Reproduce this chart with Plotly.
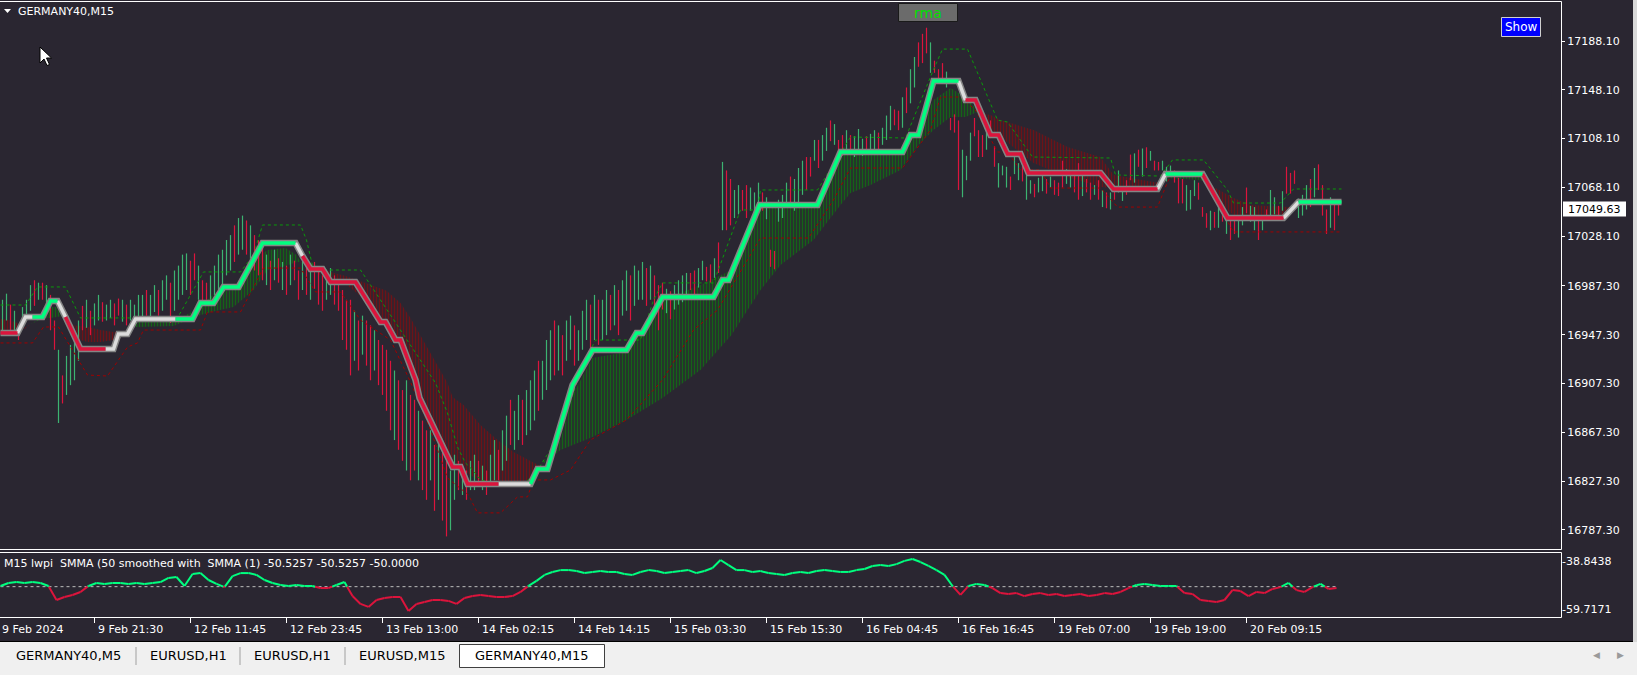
import plotly.graph_objects as go

# ---------------- data ----------------
tick_labels = ["9 Feb 2024", "9 Feb 21:30", "12 Feb 11:45", "12 Feb 23:45", "13 Feb 13:00",
               "14 Feb 02:15", "14 Feb 14:15", "15 Feb 03:30", "15 Feb 15:30", "16 Feb 04:45",
               "16 Feb 16:45", "19 Feb 07:00", "19 Feb 19:00", "20 Feb 09:15"]
tick_bars = [-1, 47, 95, 143, 191, 239, 287, 335, 383, 431, 479, 527, 575, 623]

price_ticks = [17188.10, 17148.10, 17108.10, 17068.10, 17028.10, 16987.30,
               16947.30, 16907.30, 16867.30, 16827.30, 16787.30]
ind_ticks = [-38.8438, -59.7171]
last_price = 17049.63
ind_level = -50.0

candle_lo = [
 16947,16959,16948,16951,16943, 16957,16959,16967,16971,16976, 16976,16971,16951,16935,16875,
 16891,16898,16906,16910,16926, 16951,16953,16947,16955,16959, 16958,16959,16961,16955,16963,
 16958,16955,16959,16958,16961, 16959,16963,16961,16966,16963, 16967,16976,16957,16967,16976,
 16980,16984,16980,16992,16976, 16971,16976,16976,16980,16984, 16988,16996,17000,17007,17013,
 17017,17013,17008,17000,16996, 16992,16988,16984,16992,16990, 16984,16980,16988,16992,16976,
 16984,16980,16976,16985,16972, 16967,16976,16980,16972,16967, 16943,16935,16914,16926,16918,
 16931,16922,16910,16918,16906, 16898,16885,16869,16861,16853, 16844,16836,16828,16836,16828,
 16820,16812,16828,16803,16812, 16795,16782,16787,16812,16820, 16816,16812,16820,16820,16824,
 16820,16816,16824,16828,16828, 16836,16844,16857,16853,16861, 16857,16865,16869,16877,16885,
 16894,16902,16910,16914,16918, 16914,16926,16935,16922,16926, 16935,16943,16935,16943,16939,
 16943,16947,16951,16955,16947, 16963,16967,16959,16971,16976, 16976,16971,16976,16963,16951,
 16968,16965,16960,16968,16972, 16974,16978,16984,16978,16986, 16992,16991,16990,16994,16998,
 17033,17033,17037,17043,17046, 17049,17043,17049,17047,17051, 17049,17042,17003,17001,17040,
 17043,17052,17055,17049,17055, 17062,17066,17077,17090,17084, 17090,17098,17106,17103,17099,
 17094,17097,17095,17093,17099, 17094,17096,17098,17099,17097, 17103,17107,17115,17119,17115,
 17117,17129,17137,17150,17167, 17170,17178,17162,17162,17154, 17154,17150,17115,17113,17066,
 17060,17074,17090,17110,17093, 17093,17099,17111,17085,17068, 17078,17068,17066,17079,17074,
 17073,17058,17063,17060,17064, 17065,17063,17068,17062,17061, 17068,17071,17068,17064,17058,
 17061,17064,17058,17062,17058, 17052,17051,17050,17058,17064, 17057,17062,17074,17072,17085,
 17077,17084,17090,17082,17082, 17082,17073,17080,17072,17055, 17055,17049,17050,17061,17058,
 17044,17035,17033,17035,17035, 17040,17030,17025,17030,17027, 17037,17047,17040,17033,17025,
 17033,17043,17041,17046,17041, 17049,17063,17063,17071,17043,
 17045,17050,17052,17060,17066,17045,17030,17035,17033,17045]
candle_hi = [
 16976,16981,16972,16967,16955, 16970,16976,16988,16992,16990, 16990,16988,16980,16959,16935,
 16914,16930,16939,16943,16959, 16971,16976,16967,16973,16980, 16974,16972,16976,16973,16977,
 16976,16972,16976,16972,16980, 16980,16984,16980,16988,16984, 16992,16996,16990,17000,17004,
 17013,17014,17008,17014,17004, 16992,16990,16996,17004,17013, 17017,17025,17029,17037,17043,
 17045,17041,17037,17029,17025, 17021,17013,17008,17017,17010, 17007,17004,17013,17008,17000,
 17008,17004,17000,17007,17000, 16996,17000,17002,16996,16992, 16984,16976,16976,16967,16959,
 16963,16959,16955,16951,16943, 16939,16935,16926,16918,16910, 16902,16910,16898,16894,16885,
 16877,16869,16869,16857,16861, 16853,16844,16836,16849,16844, 16840,16836,16844,16849,16844,
 16840,16836,16849,16861,16853, 16869,16881,16894,16885,16898, 16894,16902,16910,16918,16926,
 16926,16943,16951,16959,16955, 16947,16959,16963,16955,16951, 16967,16976,16972,16980,16976,
 16976,16984,16980,16988,16984, 16992,17000,16996,17004,17000, 17007,17002,17004,16996,16988,
 16990,16985,16983,16988,16992, 16996,16998,16998,17000,17002, 17008,17003,17005,17010,17023,
 17089,17082,17075,17066,17070, 17066,17070,17068,17064,17072, 17064,17060,17017,17016,17058,
 17062,17072,17077,17075,17084, 17090,17093,17093,17107,17107, 17111,17117,17123,17120,17107,
 17111,17115,17111,17110,17116, 17108,17110,17112,17115,17113, 17117,17127,17135,17132,17131,
 17142,17150,17165,17175,17187, 17194,17199,17187,17172,17165, 17170,17163,17125,17128,17123,
 17099,17094,17113,17125,17115, 17111,17115,17123,17102,17088, 17086,17085,17077,17093,17088,
 17086,17078,17074,17071,17076, 17078,17075,17077,17074,17072, 17090,17083,17080,17078,17088,
 17078,17075,17072,17070,17074, 17066,17064,17064,17068,17082, 17067,17074,17095,17096,17099,
 17100,17101,17098,17090,17089, 17090,17085,17086,17082,17076, 17075,17070,17066,17074,17072,
 17052,17047,17049,17048,17055, 17050,17043,17041,17041,17043, 17052,17068,17053,17052,17041,
 17045,17050,17066,17060,17053, 17065,17085,17080,17082,17059,
 17062,17070,17075,17084,17087,17070,17050,17060,17055,17058]
candle_dir = "".join([
 "ggrgr", "gggrg", "rgrrg", "rgggg", "rgrgg", "rggrr", "grggg", "grggr", "ggrgg", "ggrrg",
 "rrggg", "gggrg", "grgrr", "rgrgr", "grgrr", "grgrr", "rggrr", "rrrgr", "grrgr", "rrrgr",
 "rgrrg", "rrgrg", "rrggr", "grggr", "grggr", "ggrgg", "rgggr", "gggrg", "rggrg", "ggrgr",
 "ggrgr", "ggrgg", "grgrr", "rgrgg", "ggrrg", "grrgr", "grrgg", "rrggg", "rgrrg", "ggrgg",
 "grrgr", "ggrgr", "rgrgg", "grggr", "gggrr", "grggr", "rrgrr", "rgrrr", "gggrr", "rgrrg",
 "ggrgg", "rggrg", "grgrr", "rggrr", "grrgr", "grgrg", "grrgr", "grgrr", "gggrr", "rgggr",
 "rrgrg", "rgrrg", "grggr", "grggr", "grrrg", "ggrgrrrgrr"])
candle_x = list(range(1, 2 * len(candle_lo), 2))

# stepped "rma" line (bar index, price) and colour of each segment
step_x = [0, 8.5, 12.5, 16, 21, 25, 28.5, 32.5, 40, 52.5, 56.5, 59, 63.5, 67.5, 87.5, 96, 100, 106.5,
          111.5, 119, 131, 147.5, 151, 155, 161, 165, 177.5, 185, 190, 192.5, 197.5, 200, 207.5, 209.5,
          226, 230, 233.5, 249, 265, 268.5, 273.5, 286, 296, 313, 318, 321, 331, 356.5, 361, 364,
          379.5, 408.5, 420, 451, 455, 459, 466.5, 479, 482.5, 487.5, 495, 499, 503.5, 510, 514, 550,
          556.5, 578.5, 582.5, 601, 613.5, 641.5, 649, 670.5]
step_y = [16948.8, 16948.8, 16961.9, 16961.9, 16961.9, 16975.0, 16975.0, 16961.9, 16935.7, 16935.7,
          16935.7, 16948.0, 16948.0, 16960.2, 16960.2, 16960.2, 16973.4, 16973.4, 16986.5, 16986.5,
          17022.5, 17022.5, 17011.9, 17001.2, 17001.2, 16990.6, 16990.6, 16971.7, 16957.8, 16957.8,
          16943.0, 16943.0, 16910.3, 16895.5, 16839.0, 16839.0, 16825.0, 16825.0, 16825.0, 16837.3,
          16837.3, 16906.2, 16934.8, 16934.8, 16948.8, 16948.8, 16978.3, 16978.3, 16992.2, 16992.2,
          17053.7, 17053.7, 17097.1, 17097.1, 17111.1, 17111.1, 17155.3, 17155.3, 17139.7, 17139.7,
          17111.1, 17111.1, 17095.5, 17095.5, 17079.9, 17079.9, 17066.8, 17066.8, 17079.1, 17079.1,
          17043.0, 17043.0, 17056.1, 17056.1]
step_col = ("rww" + "ggg" + "w" + "rr" + "w" * 5 + "g" * 7 + "w" + "r" * 15 + "w" + "g" * 19 +
            "w" + "r" * 9 + "w" + "g" + "rr" + "w" + "g")

# two moving averages whose gap is hatched
hatch_x = [0, 4, 8.5, 12, 15, 22, 25, 28.5, 31, 33, 35, 40, 43.5, 50, 56.5, 62.5, 65, 67.5, 86.5, 100,
           107.5, 116.5, 126.5, 133.5, 142.5, 148, 150, 156.5, 165, 172.5, 182.5, 193, 200, 205, 211.5,
           217.5, 223.5, 226, 231.5, 240, 248.5, 256.5, 265, 270, 280, 286, 296, 313, 331, 350, 365.5,
           380, 390, 406.5, 420, 425, 435, 450, 459, 466.5, 475, 482.5, 488.5, 490, 495, 500, 516.5,
           533.5, 550, 556.5, 576.5, 580, 582.5, 600, 602, 607.5, 616.5, 625, 643.5, 647.5, 670.5]
hatch_fast = [16951.2, 16951.2, 16951.2, 16952.1, 16956.2, 16962.7, 16970.1, 16970.1, 16964.3, 16959.4,
              16952.1, 16943.0, 16941.4, 16941.4, 16943.0, 16949.6, 16954.5, 16957.8, 16957.8, 16970.1,
              16982.4, 16984.0, 17008.6, 17016.8, 17018.4, 17012.7, 17007.0, 17000.4, 16989.8, 16988.9,
              16975.8, 16955.3, 16941.4, 16925.0, 16895.5, 16869.3, 16847.1, 16839.8, 16836.5, 16826.7,
              16826.7, 16826.7, 16828.3, 16839.8, 16861.1, 16898.0, 16928.3, 16933.2, 16975.8, 16988.1,
              17000.4, 17051.2, 17052.0, 17052.9, 17094.7, 17097.1, 17098.8, 17098.8, 17115.2, 17139.7,
              17149.6, 17142.2, 17131.5, 17129.1, 17111.1, 17109.4, 17088.1, 17076.6, 17068.4, 17067.6,
              17067.6, 17071.7, 17078.3, 17077.4, 17072.5, 17057.8, 17045.5, 17045.5, 17045.5, 17051.2,
              17053.7]
hatch_slow = [16960.3, 16959.4, 16957.0, 16952.9, 16956.2, 16961.1, 16961.1, 16961.9, 16962.7, 16959.4,
              16955.3, 16954.5, 16953.7, 16951.2, 16949.6, 16950.4, 16954.5, 16953.7, 16954.5, 16963.5,
              16966.8, 16970.1, 16984.0, 17000.4, 17003.7, 17007.0, 17007.0, 17003.7, 16998.8, 16995.5,
              16989.8, 16983.4, 16973.4, 16961.0, 16943.0, 16925.0, 16907.8, 16896.3, 16889.8, 16873.4,
              16861.1, 16851.3, 16843.9, 16839.8, 16852.9, 16857.0, 16863.5, 16877.5, 16895.5, 16918.4,
              16947.1, 16984.0, 17004.5, 17025.0, 17053.7, 17063.5, 17070.1, 17082.4, 17102.9, 17115.2,
              17125.8, 17125.8, 17129.9, 17129.1, 17127.4, 17123.3, 17115.2, 17101.2, 17093.0, 17078.3,
              17072.5, 17071.7, 17075.8, 17074.2, 17072.5, 17067.6, 17059.4, 17053.7, 17052.0, 17051.2,
              17053.7]

# dashed channel (upper green, lower dark red)
band_up_x = [0, 12.5, 18.5, 32.5, 40, 88.5, 101.5, 120, 126.5, 131, 150, 153, 156.5, 180, 190, 200, 210,
             217.5, 223.5, 228.5, 232.5, 236, 240, 250, 261.5, 268.5, 276.5, 286.5, 290, 297.5, 320,
             326.5, 331, 356.5, 370, 378.5, 380, 408.5, 425, 452.5, 466, 471, 483.5, 498.5, 503.5, 516,
             555, 557.5, 580, 586, 601.5, 613.5, 616.5, 640, 646.5, 670.5]
band_up_y = [16971.7, 16971.7, 16986.5, 16986.5, 16961.1, 16961.1, 16998.8, 16998.8, 17012.7, 17037.3,
             17037.3, 17025.0, 17000.4, 17000.4, 16975.8, 16951.2, 16926.6, 16907.8, 16883.2, 16855.3,
             16842.2, 16836.5, 16828.3, 16824.2, 16824.2, 16836.5, 16857.0, 16899.6, 16918.4, 16943.0,
             16943.0, 16975.8, 16989.8, 16989.8, 17049.6, 17049.6, 17066.0, 17066.0, 17109.4, 17108.6,
             17162.7, 17181.5, 17181.5, 17123.3, 17121.7, 17093.0, 17092.2, 17078.3, 17077.4, 17090.6,
             17090.6, 17066.0, 17055.3, 17055.3, 17066.8, 17066.8]
band_dn_x = [0, 16, 21.5, 29, 43.5, 53.5, 63.5, 68.5, 71.5, 100, 103.5, 120, 131.5, 150, 157.5, 170, 180,
             195, 205, 215, 223.5, 234, 238.5, 250, 258.5, 263.5, 266.5, 275, 285, 295, 313, 331, 346.5,
             358.5, 380, 404, 416.5, 425, 451, 465, 470, 480, 487.5, 498.5, 503.5, 510, 520, 525, 550,
             558.5, 578.5, 583.5, 586, 601.5, 607.5, 616.5, 670.5]
band_dn_y = [16940.6, 16940.6, 16953.7, 16953.7, 16914.3, 16913.5, 16937.3, 16940.6, 16951.2, 16951.2,
             16966.0, 16966.0, 17002.0, 17002.0, 16982.4, 16982.4, 16959.4, 16943.0, 16908.6, 16869.3,
             16829.9, 16816.0, 16801.3, 16801.3, 16814.4, 16814.4, 16828.3, 16828.3, 16836.5, 16861.1,
             16877.5, 16910.3, 16951.2, 16967.6, 17026.6, 17026.6, 17057.8, 17084.0, 17084.0, 17115.2,
             17142.2, 17142.2, 17131.5, 17097.1, 17097.1, 17082.4, 17082.4, 17067.6, 17067.6, 17052.0,
             17052.0, 17072.5, 17079.9, 17079.9, 17057.8, 17031.6, 17031.6]

# lwpi oscillator (every 4th bar)
ind_x = list(range(0, 669, 4))
ind_y = [
 -49.7, -48.4, -48.0, -48.4, -48.0, -48.4, -49.7, -55.8, -54.5, -53.6,
 -52.3, -49.7, -48.4, -48.8, -48.4, -48.4, -48.8, -48.4, -48.8, -48.4,
 -48.0, -46.2, -45.8, -49.7, -44.5, -44.1, -47.1, -48.8, -50.2, -45.4,
 -44.1, -44.1, -44.9, -47.1, -48.4, -49.3, -49.7, -49.3, -49.7, -49.7,
 -50.6, -50.6, -49.3, -48.0, -54.1, -57.5, -58.8, -55.8, -54.9, -54.5,
 -54.5, -60.6, -57.5, -56.7, -55.8, -55.8, -56.2, -57.5, -54.9, -54.1,
 -53.6, -54.1, -54.5, -54.5, -54.1, -52.3, -49.7, -47.5, -44.9, -43.6,
 -42.8, -42.8, -43.2, -44.1, -43.6, -43.2, -43.6, -43.6, -44.5, -44.9,
 -43.6, -42.8, -43.2, -44.1, -43.6, -43.2, -42.8, -44.1, -43.2, -41.9,
 -38.4, -40.6, -42.8, -42.8, -43.6, -43.2, -44.1, -44.5, -44.9, -44.1,
 -43.6, -44.1, -43.2, -42.8, -43.2, -43.6, -43.6, -42.8, -42.3, -41.0,
 -40.6, -41.0, -40.2, -38.8, -38.0, -39.3, -41.0, -42.8, -44.9, -49.7,
 -53.6, -49.7, -48.8, -49.3, -50.6, -52.8, -53.2, -52.8, -54.1, -53.2,
 -52.8, -53.6, -53.2, -54.1, -53.6, -53.2, -54.1, -53.6, -52.8, -53.2,
 -52.3, -50.6, -49.3, -48.8, -49.3, -49.7, -49.7, -49.7, -52.8, -53.2,
 -55.8, -56.2, -56.7, -55.8, -51.5, -51.9, -54.1, -52.3, -52.8, -51.0,
 -50.2, -48.4, -51.5, -52.3, -50.2, -48.8, -51.0, -50.6]

# ---------------- styling / layout helpers ----------------
BG = "#2a2631"
FONT = "DejaVu Sans"
C_CANDLE_UP, C_CANDLE_DN = "#3cb371", "#dc143c"
C_STEP = {"g": "#00ff7f", "r": "#dc143c", "w": "#dcdcdc"}
C_HATCH_UP, C_HATCH_DN = "#00a000", "#b00000"
PLOT_W, PLOT_TOP, PLOT_BOT = 1561, 1, 617
PLOT_H = PLOT_BOT - PLOT_TOP
X_RANGE = [-0.25, 780.25]


def px(x):
    return x / PLOT_W


def py(y):
    return (PLOT_BOT - y) / PLOT_H


def bar_frac(b):
    return (b - X_RANGE[0]) / (X_RANGE[1] - X_RANGE[0])


fig = go.Figure()

# hatched area between the two averages
n = len(hatch_x)
runs = []
cur = None
for i in range(n - 1):
    d = (hatch_fast[i] + hatch_fast[i + 1]) - (hatch_slow[i] + hatch_slow[i + 1])
    s = 1 if d > 1e-9 else (-1 if d < -1e-9 else 0)
    if cur is not None and cur[0] == s:
        cur[2] = i + 1
    else:
        if cur is not None:
            runs.append(cur)
        cur = [s, i, i + 1]
runs.append(cur)
for s, i0, i1 in runs:
    if s == 0:
        continue
    xs = hatch_x[i0:i1 + 1]
    col = C_HATCH_UP if s > 0 else C_HATCH_DN
    fig.add_trace(go.Scatter(
        x=xs + xs[::-1], y=hatch_fast[i0:i1 + 1] + hatch_slow[i0:i1 + 1][::-1],
        mode="lines", line=dict(width=0, color=col), fill="toself",
        fillcolor="rgba(0,0,0,0)",
        fillpattern=dict(shape="|", size=3, solidity=0.5, fgcolor=col, bgcolor="rgba(0,0,0,0)"),
        hoverinfo="skip"))

# candles drawn as thin bars
m = min(len(candle_lo), len(candle_hi), len(candle_dir), len(candle_x))
for key, col in (("g", C_CANDLE_UP), ("r", C_CANDLE_DN)):
    xs, ys = [], []
    for i in range(m):
        if candle_dir[i] == key:
            xs += [candle_x[i], candle_x[i], None]
            ys += [candle_lo[i], candle_hi[i], None]
    fig.add_trace(go.Scatter(x=xs, y=ys, mode="lines", line=dict(color=col, width=1.2),
                             hoverinfo="skip"))

# dashed channel
fig.add_trace(go.Scatter(x=band_up_x, y=band_up_y, mode="lines",
                         line=dict(color="#0a9a0a", width=1, dash="3px,3px"), hoverinfo="skip"))
fig.add_trace(go.Scatter(x=band_dn_x, y=band_dn_y, mode="lines",
                         line=dict(color="#a00000", width=1, dash="3px,3px"), hoverinfo="skip"))

# stepped line: gray outline then coloured core
fig.add_trace(go.Scatter(x=step_x, y=step_y, mode="lines",
                         line=dict(color="#858585", width=6.5), hoverinfo="skip"))
for key in ("w", "r", "g"):
    xs, ys = [], []
    i = 0
    nseg = min(len(step_col), len(step_x) - 1)
    while i < nseg:
        if step_col[i] == key:
            j = i
            while j < nseg and step_col[j] == key:
                j += 1
            xs += step_x[i:j + 1] + [None]
            ys += step_y[i:j + 1] + [None]
            i = j
        else:
            i += 1
    fig.add_trace(go.Scatter(x=xs, y=ys, mode="lines",
                             line=dict(color=C_STEP[key], width=3.5), hoverinfo="skip"))

# oscillator panel
fig.add_trace(go.Scatter(x=[ind_x[0], ind_x[-1]], y=[ind_level, ind_level], yaxis="y2", mode="lines",
                         line=dict(color="#bdbdbd", width=1, dash="3px,3px"), hoverinfo="skip"))
gx, gy, rx, ry = [], [], [], []
for i in range(len(ind_x) - 1):
    x0, y0, x1, y1 = ind_x[i], ind_y[i], ind_x[i + 1], ind_y[i + 1]
    if (y0 - ind_level) * (y1 - ind_level) < 0:
        t = (ind_level - y0) / (y1 - y0)
        xc = x0 + t * (x1 - x0)
        pieces = [(x0, y0, xc, ind_level), (xc, ind_level, x1, y1)]
    else:
        pieces = [(x0, y0, x1, y1)]
    for a, b, c, d in pieces:
        if (b + d) / 2 >= ind_level:
            gx += [a, c, None]; gy += [b, d, None]
        else:
            rx += [a, c, None]; ry += [b, d, None]
fig.add_trace(go.Scatter(x=gx, y=gy, yaxis="y2", mode="lines",
                         line=dict(color="#00ff7f", width=2), hoverinfo="skip"))
fig.add_trace(go.Scatter(x=rx, y=ry, yaxis="y2", mode="lines",
                         line=dict(color="#dc143c", width=2), hoverinfo="skip"))

# ---------------- layout ----------------
y_main = [16771.7, 17220.9]
y_ind = [-63.19, -34.93]

shapes = []
white = dict(color="white", width=1)
for (x0, y0, x1, y1) in [(0, 1.5, 1561.5, 1.5), (1561.5, 1.5, 1561.5, 549.5), (0, 549.5, 1561.5, 549.5),
                         (0, 552.5, 1561.5, 552.5), (1561.5, 552.5, 1561.5, 617.5),
                         (0, 617.5, 1561.5, 617.5)]:
    shapes.append(dict(type="line", xref="paper", yref="paper", x0=px(x0), y0=py(y0), x1=px(x1),
                       y1=py(y1), line=white, layer="above"))
# window chrome: tab bar and right frame
shapes.append(dict(type="rect", xref="paper", yref="paper", x0=px(-2), x1=px(1640), y0=py(641),
                   y1=py(676), fillcolor="#f0f0f0", line=dict(width=0), layer="above"))
shapes.append(dict(type="line", xref="paper", yref="paper", x0=px(0), x1=px(1637), y0=py(641.5),
                   y1=py(641.5), line=dict(color="#000000", width=1), layer="above"))
shapes.append(dict(type="rect", xref="paper", yref="paper", x0=px(1633), x1=px(1640), y0=py(0),
                   y1=py(642), fillcolor="#d9d9d9", line=dict(width=0), layer="above"))
tab_edges = [0, 136, 240, 345, 459, 604]
tab_names = ["GERMANY40,M5", "EURUSD,H1", "EURUSD,H1", "EURUSD,M15", "GERMANY40,M15"]
for e in tab_edges[1:4]:
    shapes.append(dict(type="line", xref="paper", yref="paper", x0=px(e), x1=px(e), y0=py(647),
                       y1=py(665), line=dict(color="#a0a0a0", width=1), layer="above"))
shapes.append(dict(type="rect", xref="paper", yref="paper", x0=px(459.5), x1=px(604.5), y0=py(667.5),
                   y1=py(644.5), fillcolor="#ffffff", line=dict(color="#404040", width=1), layer="above"))
# buttons
shapes.append(dict(type="rect", xref="paper", yref="paper", x0=px(898.5), x1=px(957.5), y0=py(21.5),
                   y1=py(3.5), fillcolor="#6b6b6b", line=dict(color="#1a1a1a", width=1), layer="above"))
shapes.append(dict(type="rect", xref="paper", yref="paper", x0=px(1501.5), x1=px(1540.5), y0=py(36.5),
                   y1=py(17.5), fillcolor="#0000ff", line=dict(color="#d0d0d0", width=1), layer="above"))
# last price box
shapes.append(dict(type="rect", xref="paper", yref="paper", x0=px(1563), x1=px(1626), y0=py(216.5),
                   y1=py(201.5), fillcolor="#ffffff", line=dict(width=0), layer="above"))
# collapse triangle and mouse cursor
tri = [(4, 9), (11, 9), (7.5, 13)]
shapes.append(dict(type="path", xref="paper", yref="paper",
                   path="M " + " L ".join(f"{px(a)},{py(b)}" for a, b in tri) + " Z",
                   fillcolor="white", line=dict(width=0), layer="above"))
cur_pts = [(40, 47), (40, 63), (44, 59), (47, 65.5), (49.5, 64.5), (46.5, 58), (51.5, 58)]
shapes.append(dict(type="path", xref="paper", yref="paper",
                   path="M " + " L ".join(f"{px(a)},{py(b)}" for a, b in cur_pts) + " Z",
                   fillcolor="white", line=dict(color="black", width=1), layer="above"))

ann = []
ann.append(dict(text="GERMANY40,M15", xref="paper", yref="paper", x=px(16), y=py(11.5), xanchor="left",
                yanchor="middle", showarrow=False, font=dict(family=FONT, size=11, color="white")))
ann.append(dict(text="rma", xref="paper", yref="paper", x=px(928), y=py(12.5), xanchor="center",
                yanchor="middle", showarrow=False, font=dict(family=FONT, size=14, color="#00e000")))
ann.append(dict(text="Show", xref="paper", yref="paper", x=px(1521), y=py(27), xanchor="center",
                yanchor="middle", showarrow=False, font=dict(family=FONT, size=12, color="white")))
ann.append(dict(text=f"{last_price:.2f}", xref="paper", yref="paper", x=px(1594.5), y=py(209),
                xanchor="center", yanchor="middle", showarrow=False,
                font=dict(family=FONT, size=11, color="black")))
ann.append(dict(text="M15 lwpi\u00a0\u00a0SMMA (50 smoothed with\u00a0\u00a0SMMA (1) -50.5257 -50.5257 -50.0000",
                xref="paper", yref="paper", x=px(2), y=py(563), xanchor="left", yanchor="middle",
                showarrow=False, font=dict(family=FONT, size=11, color="white")))
for lab, b in zip(tick_labels, tick_bars):
    ann.append(dict(text=lab, xref="paper", yref="paper", x=bar_frac(b), xshift=1, y=py(629),
                    xanchor="left", yanchor="middle", showarrow=False,
                    font=dict(family=FONT, size=11, color="white")))
for name, a, b in zip(tab_names, tab_edges[:-1], tab_edges[1:]):
    ann.append(dict(text=name, xref="paper", yref="paper", x=px((a + b) / 2), y=py(656),
                    xanchor="center", yanchor="middle", showarrow=False,
                    font=dict(family=FONT, size=13, color="black")))
for t, xx in (("\u25c0", 1596), ("\u25b6", 1620)):
    ann.append(dict(text=t, xref="paper", yref="paper", x=px(xx), y=py(655), xanchor="center",
                    yanchor="middle", showarrow=False, font=dict(family=FONT, size=9, color="#9a9a9a")))

fig.update_layout(
    width=1637, height=675,
    margin=dict(l=0, r=76, t=PLOT_TOP, b=675 - PLOT_BOT),
    paper_bgcolor=BG, plot_bgcolor=BG, showlegend=False, hovermode=False,
    font=dict(family=FONT, size=11, color="white"),
    xaxis=dict(range=X_RANGE, anchor="y2", showgrid=False, zeroline=False,
               tickvals=tick_bars, ticks="outside", ticklen=5, tickcolor="white",
               showticklabels=False, showline=False, fixedrange=True),
    yaxis=dict(domain=[py(549), 1], range=y_main, side="right", anchor="x", showgrid=False,
               zeroline=False, tickvals=price_ticks, ticktext=[f"{v:.2f}" for v in price_ticks],
               ticks="outside", ticklen=3, tickcolor="white", fixedrange=True,
               tickfont=dict(family=FONT, size=11, color="white")),
    yaxis2=dict(domain=[0, py(552)], range=y_ind, side="right", anchor="x", showgrid=False,
                zeroline=False, tickvals=ind_ticks, ticktext=[f"{v:.4f}" for v in ind_ticks],
                ticks="", fixedrange=True, tickfont=dict(family=FONT, size=11, color="white")),
    shapes=shapes, annotations=ann,
)
fig.write_html("out.html", config={"displayModeBar": False, "staticPlot": True},
               post_script="document.body.style.margin='0px';"
                           "document.body.style.overflow='hidden';")
